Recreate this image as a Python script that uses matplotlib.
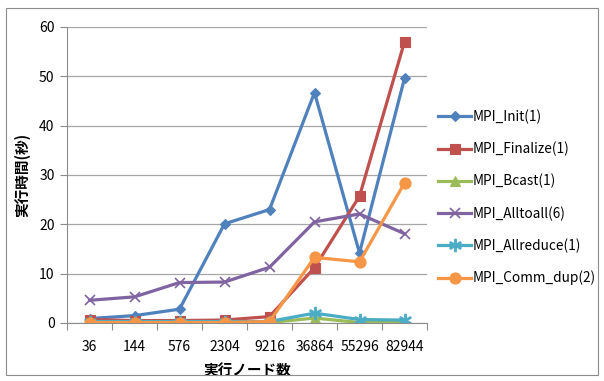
import matplotlib
matplotlib.use("Agg")
import matplotlib.pyplot as plt
from matplotlib.patches import Rectangle

plt.rcParams['font.family'] = ['Noto Sans CJK JP', 'DejaVu Sans']

nodes = ["36", "144", "576", "2304", "9216", "36864", "55296", "82944"]
mpi_init = [0.9, 1.5, 2.8, 20.1, 23.0, 46.7, 14.2, 49.6]
mpi_finalize = [0.7, 0.5, 0.5, 0.6, 1.3, 11.2, 25.7, 57.0]
mpi_bcast = [0.1, 0.1, 0.1, 0.1, 0.1, 1.0, 0.1, 0.1]
mpi_alltoall = [4.6, 5.3, 8.2, 8.3, 11.3, 20.5, 22.1, 18.1]
mpi_allreduce = [0.3, 0.3, 0.3, 0.3, 0.3, 2.0, 0.7, 0.6]
mpi_comm_dup = [0.1, 0.1, 0.1, 0.1, 0.3, 13.3, 12.4, 28.4]

series = [
    ("MPI_Init(1)", mpi_init, "#4F81BD", "D", 5.5),
    ("MPI_Finalize(1)", mpi_finalize, "#C0504D", "s", 7),
    ("MPI_Bcast(1)", mpi_bcast, "#9BBB59", "^", 7),
    ("MPI_Alltoall(6)", mpi_alltoall, "#8064A2", "x", 7),
    ("MPI_Allreduce(1)", mpi_allreduce, "#4BACC6", "$\\ast$", 9),
    ("MPI_Comm_dup(2)", mpi_comm_dup, "#F79646", "o", 8),
]

fig = plt.figure(figsize=(6.04, 3.81), dpi=100)
fig.patches.append(Rectangle((6 / 604, 6 / 381), 592 / 604, 367 / 381,
                             transform=fig.transFigure, fill=False,
                             edgecolor="#8c8c8c", linewidth=0.8))
ax = fig.add_axes([67 / 604, 1 - 323 / 381, 360 / 604, 296 / 381])

x = list(range(len(nodes)))
for label, vals, color, marker, ms in series:
    mew = 1.2 if marker in ("x",) else 0.8
    ax.plot(x, vals, color=color, linewidth=2.3, marker=marker, markersize=ms,
            markeredgewidth=mew, markeredgecolor=color, markerfacecolor=color,
            label=label)

ax.set_xlim(-0.5, len(nodes) - 0.5)
ax.set_ylim(0, 60)
ax.set_yticks(range(0, 61, 10))
ax.yaxis.grid(True, color="#a6a6a6", linewidth=0.9)
ax.set_axisbelow(True)
ax.set_xticks(x)
ax.set_xticklabels(nodes)
ax.set_xticks([i - 0.5 for i in range(len(nodes) + 1)], minor=True)
ax.tick_params(axis="x", which="major", length=0, pad=12, labelsize=10)
ax.tick_params(axis="x", which="minor", length=5, color="#8c8c8c", width=0.8)
ax.tick_params(axis="y", length=5, color="#8c8c8c", width=0.8, labelsize=10, pad=4)
for s in ("top", "right"):
    ax.spines[s].set_visible(False)
for s in ("left", "bottom"):
    ax.spines[s].set_color("#8c8c8c")
    ax.spines[s].set_linewidth(0.8)

ax.set_xlabel("実行ノード数", fontsize=10.5, fontweight="bold", labelpad=6)
ax.set_ylabel("実行時間(秒)", fontsize=10.5, fontweight="bold", labelpad=6)

fig.legend(loc="upper left", bbox_to_anchor=(433 / 604, 1 - 104 / 381),
           frameon=False, fontsize=9.8, handlelength=2.4, handletextpad=0.1,
           labelspacing=1.3, borderaxespad=0)

fig.savefig("out.png", dpi=100)
